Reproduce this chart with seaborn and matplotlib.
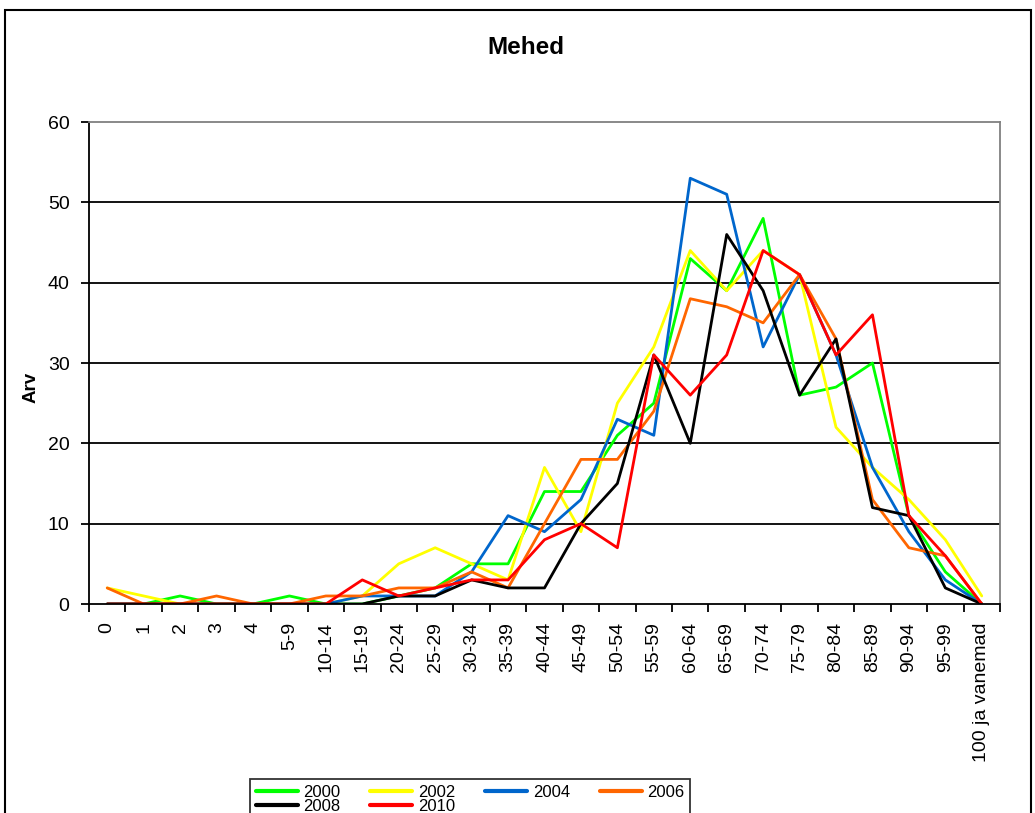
import numpy as np
import pandas as pd
import matplotlib
matplotlib.use("Agg")
import matplotlib.pyplot as plt
import seaborn as sns
from matplotlib.patches import Rectangle
from matplotlib.lines import Line2D

categories = ["0", "1", "2", "3", "4", "5-9", "10-14", "15-19", "20-24", "25-29",
              "30-34", "35-39", "40-44", "45-49", "50-54", "55-59", "60-64", "65-69",
              "70-74", "75-79", "80-84", "85-89", "90-94", "95-99", "100 ja vanemad"]

y2000 = [0, 0, 1, 0, 0, 1, 0, 0, 1, 2, 5, 5, 14, 14, 21, 25, 43, 39, 48, 26, 27, 30, 11, 4, 0]
y2002 = [2, 1, 0, 0, 0, 0, 0, 1, 5, 7, 5, 3, 17, 9, 25, 32, 44, 39, 44, 41, 22, 17, 13, 8, 1]
y2004 = [0, 0, 0, 0, 0, 0, 0, 1, 1, 1, 4, 11, 9, 13, 23, 21, 53, 51, 32, 41, 31, 17, 9, 3, 0]
y2006 = [2, 0, 0, 1, 0, 0, 1, 1, 2, 2, 4, 2, 10, 18, 18, 24, 38, 37, 35, 41, 33, 13, 7, 6, 0]
y2008 = [0, 0, 0, 0, 0, 0, 0, 0, 1, 1, 3, 2, 2, 10, 15, 31, 20, 46, 39, 26, 33, 12, 11, 2, 0]
y2010 = [0, 0, 0, 0, 0, 0, 0, 3, 1, 2, 3, 3, 8, 10, 7, 31, 26, 31, 44, 41, 31, 36, 11, 6, 0]

years = ["2000", "2002", "2004", "2006", "2008", "2010"]
series = [y2000, y2002, y2004, y2006, y2008, y2010]
colors = ["#00FF00", "#FFFF00", "#0066CC", "#FF6600", "#000000", "#FF0000"]
yticks = [0, 10, 20, 30, 40, 50, 60]

rows = []
for yr, vals in zip(years, series):
    for i, (c, v) in enumerate(zip(categories, vals)):
        rows.append({"pos": i, "cat": c, "value": v, "year": yr})
df = pd.DataFrame(rows)

sns.set_theme(style="white")
plt.rcParams["font.family"] = ["Liberation Sans", "DejaVu Sans"]
plt.rcParams["text.color"] = "black"
plt.rcParams["axes.labelcolor"] = "black"
plt.rcParams["xtick.color"] = "black"
plt.rcParams["ytick.color"] = "black"

fig = plt.figure(figsize=(10.35, 8.13), dpi=100)
ax = fig.add_axes([89 / 1035, 1 - 604 / 813, (1000 - 89) / 1035, (604 - 122) / 813])

sns.lineplot(data=df, x="pos", y="value", hue="year", hue_order=years,
             palette=dict(zip(years, colors)), linewidth=2.0, ax=ax,
             legend=False, estimator=None, sort=False)

ax.set_xlim(-0.5, len(categories) - 0.5)
ax.set_ylim(0, 60)
ax.set_xlabel("")
ax.set_ylabel("")

ax.set_yticks(yticks)
ax.set_yticklabels([str(t) for t in yticks], fontsize=14, color="black")
for t in yticks[1:-1]:
    ax.axhline(t, color="black", linewidth=1.3, zorder=0)

ax.set_xticks(np.arange(len(categories)))
ax.set_xticklabels(categories, rotation=90, fontsize=14, color="black")
ax.set_xticks(np.arange(len(categories) + 1) - 0.5, minor=True)
ax.tick_params(axis="x", which="major", length=0, pad=13)
ax.tick_params(axis="x", which="minor", length=6, width=1.3, color="black", direction="out", bottom=True)
ax.tick_params(axis="y", which="major", length=6, width=1.3, color="black", direction="out", left=True, pad=8)

for s in ["left", "bottom"]:
    ax.spines[s].set_color("black")
    ax.spines[s].set_linewidth(1.3)
for s in ["top", "right"]:
    ax.spines[s].set_color("#808080")
    ax.spines[s].set_linewidth(1.3)
    ax.spines[s].set_visible(True)

fig.text(525.5 / 1035, 1 - 48 / 813, "Mehed", fontsize=17.5, fontweight="bold",
         ha="center", va="center", color="black")
fig.text(31 / 1035, 1 - 387 / 813, "Arv", fontsize=13.5, fontweight="bold",
         ha="center", va="center", rotation=90, color="black")

# outer chart frame
fig.patches.append(Rectangle((5 / 1035, -0.05), (1031 - 5) / 1035, 1.05 - 10 / 813,
                             transform=fig.transFigure, fill=False,
                             edgecolor="black", linewidth=1.5, zorder=-1))

# legend (row-wise ordering)
handles = [Line2D([0], [0], color=c, linewidth=3) for c in colors]
order = [0, 4, 1, 5, 2, 3]
leg = fig.legend([handles[i] for i in order], [years[i] for i in order],
                 loc="upper left", bbox_to_anchor=(250 / 1035, 1 - 779 / 813),
                 bbox_transform=fig.transFigure, ncol=4, fontsize=12,
                 frameon=True, fancybox=False, edgecolor="black",
                 handlelength=2.5, handletextpad=0.35, columnspacing=1.8,
                 labelspacing=-0.08, borderpad=0.35, borderaxespad=0)
leg.get_frame().set_linewidth(1.3)
for txt in leg.get_texts():
    txt.set_color("black")

fig.savefig("out.png", dpi=100)
